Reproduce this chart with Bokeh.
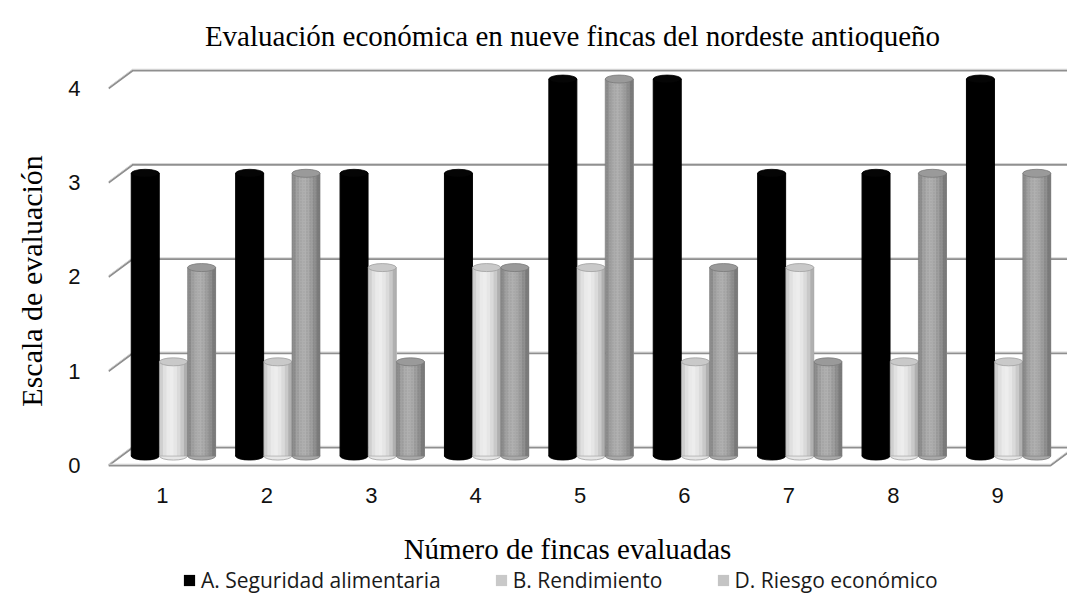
import numpy as np
from math import pi
from bokeh.plotting import figure
from bokeh.layouts import column, row
from bokeh.models import Range1d, FixedTicker, Legend, LegendItem, ColumnDataSource
from bokeh.core.properties import value
from bokeh.embed import file_html
from bokeh.resources import INLINE

# ---------------- data ----------------
fincas = ["1", "2", "3", "4", "5", "6", "7", "8", "9"]
seguridad_alimentaria = [3, 3, 3, 3, 4, 4, 3, 3, 4]
rendimiento = [1, 1, 2, 2, 2, 1, 2, 1, 1]
riesgo_economico = [2, 3, 1, 2, 4, 2, 1, 3, 3]
y_ticks = [0, 1, 2, 3, 4]
series_names = ["A. Seguridad alimentaria", "B. Rendimiento", "D. Riesgo económico"]

title_text = "Evaluación económica en nueve fincas del nordeste antioqueño"
x_title = "Número de fincas evaluadas"
y_title = "Escala de evaluación"

# ---------------- style / 3D geometry ----------------
X_LO, X_HI = 0.483, 9.506        # front edge of floor
DX, DY = 0.23, 0.19              # depth offset of the back wall
BX, BY = 0.105, 0.10             # bars sit half way in depth
BAR_W = 0.268
OFFS = [-0.27, 0.0, 0.27]
CAP_H = 0.085
N_STRIP = 8

shades = [
    ["#000000"] * N_STRIP,
    ["#cfcfcf", "#e0e0e0", "#eaeaea", "#ededed", "#e6e6e6", "#dadada", "#c9c9c9", "#b0b0b0"],
    ["#8e8e8e", "#a1a1a1", "#acacac", "#b0b0b0", "#aaaaaa", "#9e9e9e", "#8f8f8f", "#7b7b7b"],
]
cap_fill = ["#050505", "#c9c9c9", "#9a9a9a"]
cap_line = ["#000000", "#a0a0a0", "#7a7a7a"]
legend_fill = ["#000000", "#c9c9c9", "#c4c4c4"]

W = 1067
W_YLAB = 50
H_TOP, H_MAIN = 56, 455
H_BOT = 595 - H_TOP - H_MAIN

def strip(w, h):
    f = figure(width=w, height=h, output_backend="svg", toolbar_location=None,
               x_range=Range1d(0, w), y_range=Range1d(0, h),
               x_axis_type=None, y_axis_type=None, min_border=0)
    f.outline_line_color = None
    f.grid.visible = False
    f.background_fill_color = "white"
    f.border_fill_color = "white"
    return f

# ---------------- main chart ----------------
p = figure(width=W - W_YLAB, height=H_MAIN, output_backend="svg", toolbar_location=None,
           x_range=Range1d(0.483, 9.669), y_range=Range1d(-0.0637, 4.297),
           min_border_left=58, min_border_right=0, min_border_top=4, min_border_bottom=40)
p.background_fill_color = "white"
p.border_fill_color = "white"
p.outline_line_color = None
p.xgrid.visible = False
p.ygrid.visible = False

# walls / floor
gx, gy = [], []
for v in y_ticks:
    if v == 0:
        gx.append([X_LO, X_HI, X_HI + DX]); gy.append([0, 0, DY])
        gx.append([X_LO, X_LO + DX, X_HI + DX + 1]); gy.append([0, DY, DY])
    else:
        gx.append([X_LO, X_LO + DX, X_HI + DX + 1]); gy.append([v, v + DY, v + DY])
p.multi_line(gx, gy, line_color="#8f8f8f", line_width=2)
p.multi_line(gx, [[yv + 0.014 for yv in yy] for yy in gy],
             line_color="#d6d6d6", line_width=1)

# bars (cylinders)
xs_group = np.arange(1, len(fincas) + 1, dtype=float)
all_series = [seguridad_alimentaria, rendimiento, riesgo_economico]
sw = BAR_W / N_STRIP
for s, vals in enumerate(all_series):
    vals = np.array(vals, dtype=float)
    cx = xs_group + BX + OFFS[s]
    left, right = cx - BAR_W / 2, cx + BAR_W / 2
    p.ellipse(x=cx, y=np.full_like(cx, BY), width=BAR_W, height=CAP_H,
              fill_color=shades[s][N_STRIP // 2], line_color=cap_line[s], line_width=0.8)
    if s == 0:
        p.vbar(x=cx, width=BAR_W, bottom=BY, top=vals + BY, fill_color="#000000", line_color="#000000")
    else:
        for k in range(N_STRIP):
            lk = left + sw * k
            p.vbar(x=(lk + right) / 2, width=right - lk, bottom=BY, top=vals + BY,
                   fill_color=shades[s][k], line_color=None)
        if s == 2:
            p.vbar(x=cx, width=BAR_W, bottom=BY, top=vals + BY, fill_alpha=0, line_color=None,
                   hatch_pattern="dot", hatch_scale=3, hatch_color="#5a5a5a", hatch_alpha=0.2)
        p.vbar(x=cx, width=BAR_W, bottom=BY, top=vals + BY, fill_alpha=0,
               line_color=cap_line[s], line_width=0.8, line_alpha=0.8)
    p.ellipse(x=cx, y=vals + BY, width=BAR_W, height=CAP_H,
              fill_color=cap_fill[s], line_color=cap_line[s], line_width=0.8)

# axes
p.xaxis.ticker = FixedTicker(ticks=list(range(1, len(fincas) + 1)))
p.xaxis.major_label_overrides = {i + 1: f for i, f in enumerate(fincas)}
p.yaxis.ticker = FixedTicker(ticks=y_ticks)
for ax in (p.xaxis[0], p.yaxis[0]):
    ax.axis_line_color = None
    ax.major_tick_line_color = None
    ax.minor_tick_line_color = None
    ax.major_label_text_font = "Liberation Sans"
    ax.major_label_text_font_size = "22px"
    ax.major_label_text_color = "#111111"
p.xaxis.major_label_standoff = 10
p.yaxis.major_label_standoff = 22

# ---------------- title strip ----------------
pt = strip(W, H_TOP)
pt.text(x=[572], y=[H_TOP - 35], text=[title_text], text_align="center",
        text_baseline="alphabetic", text_font=value("Liberation Serif"),
        text_font_size="29px", text_color="#000000")

# ---------------- y title strip ----------------
py = strip(W_YLAB, H_MAIN)
py.text(x=[31], y=[H_MAIN - (300 - H_TOP)], text=[y_title], angle=pi / 2, text_align="center",
        text_baseline="middle", text_font=value("Liberation Serif"), text_font_size="30px",
        text_color="#000000")

# ---------------- x title + legend strip ----------------
pl = strip(W, H_BOT)
pl.text(x=[567], y=[595 - 548], text=[x_title], text_align="center",
        text_baseline="alphabetic", text_font=value("Liberation Serif"),
        text_font_size="29px", text_color="#000000")
items = []
for s, name in enumerate(series_names):
    src = ColumnDataSource(dict(x=[float("nan")], top=[float("nan")]))
    kw = {}
    if s == 2:
        kw = dict(hatch_pattern="checker", hatch_scale=3, hatch_color="#8a8a8a", hatch_alpha=0.9)
    r = pl.vbar(x="x", top="top", width=1, source=src, fill_color=legend_fill[s], line_color=None, **kw)
    items.append(LegendItem(label=name, renderers=[r]))
legend = Legend(items=items, orientation="horizontal", location=(182, 1),
                label_text_font="Open Sans", label_text_font_size="21px", label_text_color="#1a1a1a",
                glyph_width=14, glyph_height=14, label_standoff=5, spacing=53,
                padding=0, margin=0, border_line_alpha=0, background_fill_alpha=0)
pl.add_layout(legend)

layout = column(pt, row(py, p), pl)
open("out.html", "w").write(file_html(layout, INLINE))
